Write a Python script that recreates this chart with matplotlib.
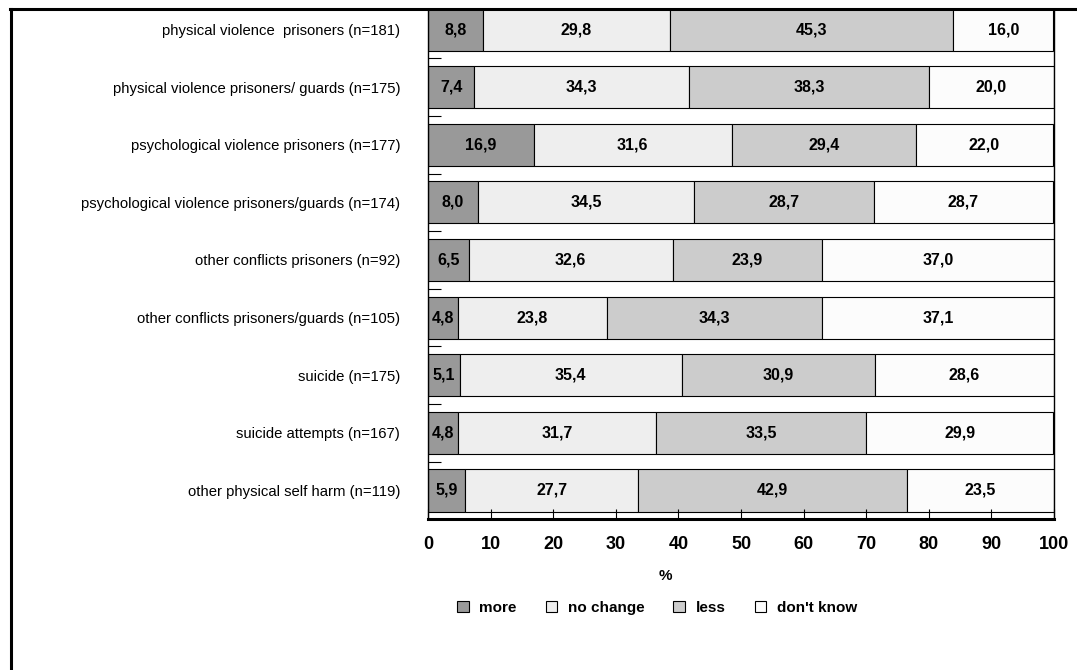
import numpy as np
import matplotlib.pyplot as plt
from matplotlib.lines import Line2D
from matplotlib.patches import Patch

plt.rcParams['font.family'] = ['Liberation Sans', 'DejaVu Sans']

# data
categories = ["physical violence  prisoners (n=181)",
              "physical violence prisoners/ guards (n=175)",
              "psychological violence prisoners (n=177)",
              "psychological violence prisoners/guards (n=174)",
              "other conflicts prisoners (n=92)",
              "other conflicts prisoners/guards (n=105)",
              "suicide (n=175)",
              "suicide attempts (n=167)",
              "other physical self harm (n=119)"]
more      = [8.8, 7.4, 16.9, 8.0, 6.5, 4.8, 5.1, 4.8, 5.9]
no_change = [29.8, 34.3, 31.6, 34.5, 32.6, 23.8, 35.4, 31.7, 27.7]
less      = [45.3, 38.3, 29.4, 28.7, 23.9, 34.3, 30.9, 33.5, 42.9]
dont_know = [16.0, 20.0, 22.0, 28.7, 37.0, 37.1, 28.6, 29.9, 23.5]
series_names = ["more", "no change", "less", "don't know"]
colors = ['#999999', '#eeeeee', '#cccccc', '#fcfcfc']

fig = plt.figure(figsize=(10.77, 6.70), dpi=100)
ax = fig.add_axes([428/1077, 1-519/670, (1054-428)/1077, (519-9)/670])

y = np.arange(len(categories))
left = np.zeros(len(categories))
for vals, col in zip([more, no_change, less, dont_know], colors):
    vals = np.array(vals)
    ax.barh(y, vals, left=left, height=0.73, color=col, edgecolor='black', linewidth=0.8)
    for yi, l, v in zip(y, left, vals):
        ax.text(l + v/2, yi, ('%.1f' % v).replace('.', ','), ha='center', va='center',
                fontsize=11.5, fontweight='bold')
    left += vals

ax.set_xlim(0, 100)
ax.set_ylim(len(categories) - 1 + 0.495, -0.356)
ax.set_yticks(y)
ax.set_yticklabels(categories, fontsize=10.7)
ax.tick_params(axis='y', length=0, pad=20)
ax.set_yticks(y[:-1] + 0.5, minor=True)
ax.tick_params(axis='y', which='minor', direction='in', length=9, width=0.8)
ax.set_xticks(np.arange(0, 101, 10))
ax.tick_params(axis='x', direction='in', length=7, width=0.8, labelsize=13, pad=12)
for t in ax.get_xticklabels():
    t.set_fontweight('bold')
for s in ['left', 'right']:
    ax.spines[s].set_linewidth(1.0)
ax.spines['bottom'].set_linewidth(2.2)
ax.spines['top'].set_visible(False)

fig.text(665/1077, 1-576/670, '%', ha='center', va='center', fontsize=11, fontweight='bold')

handles = [Patch(facecolor=c, edgecolor='black', linewidth=0.8) for c in colors]
fig.legend(handles, series_names, loc='center', bbox_to_anchor=(657/1077, 1-608/670),
           ncol=4, frameon=False, prop={'weight': 'bold', 'size': 11},
           handlelength=0.75, handleheight=0.75, handletextpad=0.7, columnspacing=1.9)

# outer frame (top and left edges)
fig.add_artist(Line2D([10/1077, 1], [1-9/670, 1-9/670], color='black', linewidth=2.2,
                      transform=fig.transFigure))
fig.add_artist(Line2D([11/1077, 11/1077], [0, 1-9/670], color='black', linewidth=2.2,
                      transform=fig.transFigure))

plt.savefig('out.png', dpi=100)
